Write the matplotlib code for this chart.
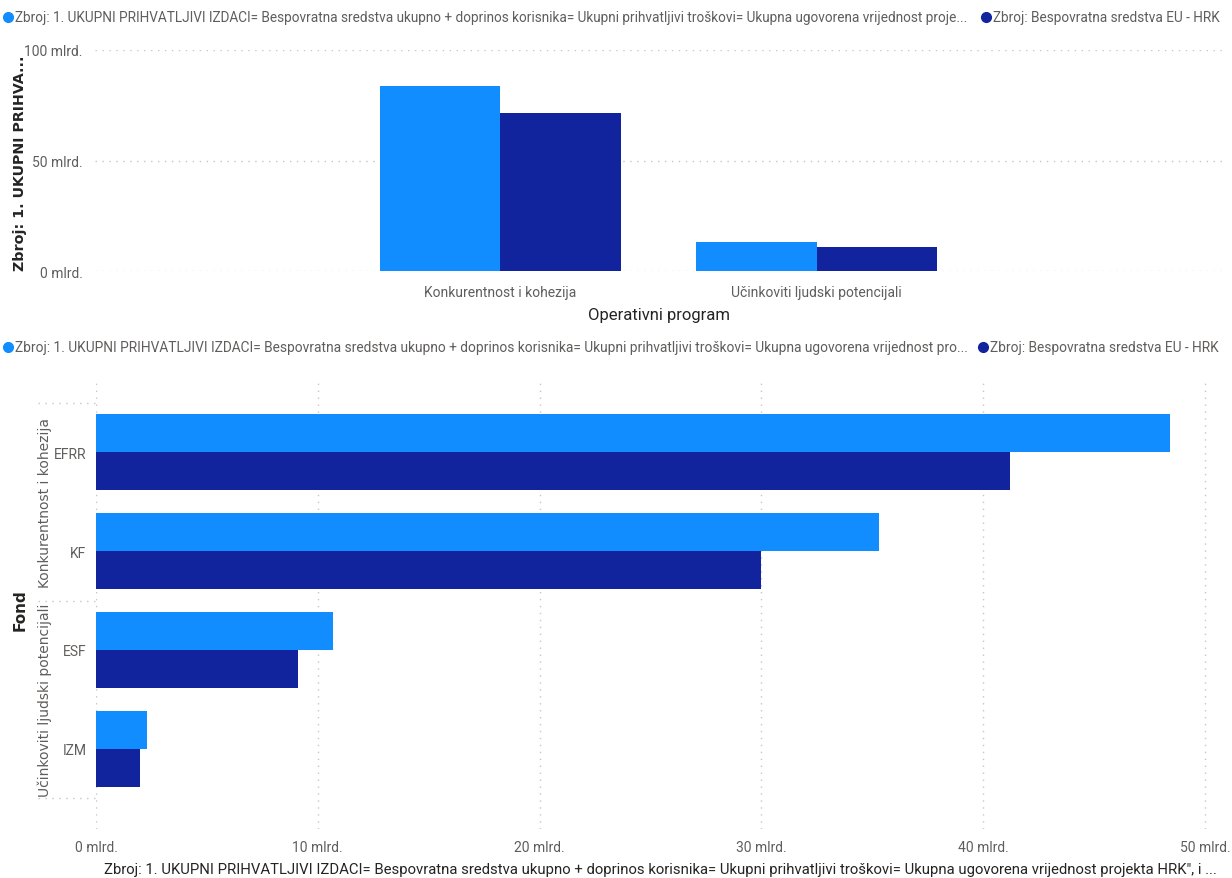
import matplotlib.pyplot as plt
from matplotlib.lines import Line2D
from matplotlib import font_manager

# podaci (mlrd. HRK)
programi = ['Konkurentnost i kohezija', 'Učinkoviti ljudski potencijali']
ukupno_op = [83.7, 12.9]
eu_op = [71.4, 11.0]

fondovi = ['EFRR', 'KF', 'ESF', 'IZM']
ukupno_fond = [48.4, 35.3, 10.7, 2.3]
eu_fond = [41.2, 30.0, 9.1, 2.0]
grupe = ['Konkurentnost i kohezija', 'Učinkoviti ljudski potencijali']

leg1 = ('Zbroj: 1. UKUPNI PRIHVATLJIVI IZDACI= Bespovratna sredstva ukupno + doprinos korisnika= '
        'Ukupni prihvatljivi troškovi= Ukupna ugovorena vrijednost proje...')
leg1b = ('Zbroj: 1. UKUPNI PRIHVATLJIVI IZDACI= Bespovratna sredstva ukupno + doprinos korisnika= '
         'Ukupni prihvatljivi troškovi= Ukupna ugovorena vrijednost pro...')
leg2 = 'Zbroj: Bespovratna sredstva EU - HRK'
xlab = ('Zbroj: 1. UKUPNI PRIHVATLJIVI IZDACI= Bespovratna sredstva ukupno + doprinos korisnika= '
        'Ukupni prihvatljivi troškovi= Ukupna ugovorena vrijednost projekta HRK", i ...')

SVIJETLA = '#118DFF'
TAMNA = '#12239E'
SIVA = '#605E5C'
TEKST = '#252423'

names = {f.name for f in font_manager.fontManager.ttflist}
uska = 'Liberation Sans Narrow' if 'Liberation Sans Narrow' in names else 'Roboto'
plt.rcParams['font.family'] = [uska, 'DejaVu Sans']

W, H = 1232, 879
fig = plt.figure(figsize=(W / 100, H / 100), dpi=100)


def box(x0, y0, x1, y1):
    # pikseli (od gornjeg lijevog kuta) -> koordinate figure
    return [x0 / W, 1 - y1 / H, (x1 - x0) / W, (y1 - y0) / H]


def legenda(y, prvi, kraj):
    fig.add_artist(Line2D([8 / W], [1 - y / H], marker='o', markersize=7, color=SVIJETLA,
                          transform=fig.transFigure))
    t = fig.text(15 / W, 1 - y / H, prvi, fontsize=10.5, color=SIVA, va='center')
    fig.canvas.draw()
    bb = t.get_window_extent()
    t.set_fontsize(10.5 * (kraj - 15) / bb.width)
    x2 = kraj + 8
    fig.add_artist(Line2D([(x2 + 2) / W], [1 - y / H], marker='o', markersize=7, color=TAMNA,
                          transform=fig.transFigure))
    fig.text((x2 + 9) / W, 1 - y / H, leg2, fontsize=t.get_fontsize(), color=SIVA, va='center')


# gornji graf
ax1 = fig.add_axes(box(95, 51, 1222, 272))
x = list(range(len(programi)))
w = 0.38
ax1.bar([i - w / 2 for i in x], ukupno_op, width=w, color=SVIJETLA)
ax1.bar([i + w / 2 for i in x], eu_op, width=w, color=TAMNA)
ax1.set_xlim(-1.28, 2.28)
ax1.set_ylim(0, 100)
ax1.set_yticks([0, 50, 100])
ax1.set_yticklabels(['0 mlrd.', '50 mlrd.', '100 mlrd.'])
ax1.set_xticks(x)
ax1.set_xticklabels(programi)
ax1.yaxis.grid(True, linestyle=(0, (1, 4)), color='#C8C6C4', linewidth=1)
ax1.set_axisbelow(True)
for s in ax1.spines.values():
    s.set_visible(False)
ax1.tick_params(length=0, labelsize=10, colors=SIVA)
ax1.tick_params(axis='y', pad=9)
ax1.tick_params(axis='x', pad=10)
ax1.set_xlabel('Operativni program', fontsize=12, color=TEKST, labelpad=6)
fig.text(20 / W, 1 - 163 / H, 'Zbroj: 1. UKUPNI PRIHVA...', rotation=90, fontsize=10.3,
         fontweight='bold', family='DejaVu Sans', color=TEKST, ha='center', va='center')

# donji graf
ax2 = fig.add_axes(box(96, 380, 1225, 830))
y = list(range(len(fondovi)))
h = 0.385
ax2.barh([i - h / 2 for i in y], ukupno_fond, height=h, color=SVIJETLA)
ax2.barh([i + h / 2 for i in y], eu_fond, height=h, color=TAMNA)
ax2.set_ylim(3.81, -0.74)
ax2.set_xlim(0, 50.9)
ax2.set_xticks([0, 10, 20, 30, 40, 50])
ax2.set_xticklabels(['0 mlrd.', '10 mlrd.', '20 mlrd.', '30 mlrd.', '40 mlrd.', '50 mlrd.'])
ax2.set_yticks(y)
ax2.set_yticklabels(fondovi)
ax2.xaxis.grid(True, linestyle=(0, (1, 4)), color='#C8C6C4', linewidth=1)
ax2.set_axisbelow(True)
for s in ax2.spines.values():
    s.set_visible(False)
ax2.tick_params(length=0, labelsize=10, colors=SIVA)
ax2.tick_params(axis='y', pad=7)
ax2.tick_params(axis='x', pad=8)
ax2.set_xlabel(xlab, fontsize=10.7, color=TEKST, labelpad=6)

# separatori grupa i nazivi grupa
tr = ax2.get_yaxis_transform()
for yy in [-0.5, 1.5, 3.5]:
    ax2.plot([-58 / 1129, 0], [yy, yy], transform=tr, clip_on=False,
             linestyle=(0, (1, 4)), color='#C8C6C4', linewidth=1)
for k, g in enumerate(grupe):
    ax2.text(-51 / 1129, 2 * k + 0.5, g, transform=tr, rotation=90, ha='center', va='center',
             fontsize=10, color=SIVA, family='DejaVu Sans')
fig.text(20 / W, 1 - 610 / H, 'Fond', rotation=90, fontsize=11, fontweight='bold',
         family='DejaVu Sans', color=TEKST, ha='center', va='center')

legenda(18, leg1, 976)
legenda(348, leg1b, 973)

fig.savefig('out.png', dpi=100)
